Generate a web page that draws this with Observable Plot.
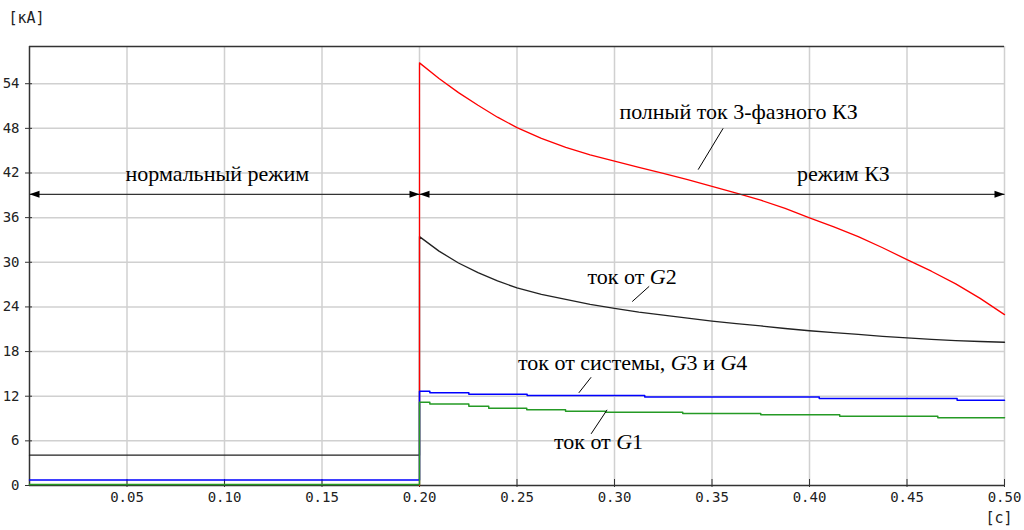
<!DOCTYPE html>
<html>
<head>
<meta charset="utf-8">
<script src="https://cdn.jsdelivr.net/npm/d3@7"></script>
<script src="https://cdn.jsdelivr.net/npm/@observablehq/plot@0.6"></script>
<style>
  html, body { margin: 0; padding: 0; background: #fff; }
  #chart svg { display: block; }
</style>
</head>
<body>
<div id="chart"></div>
<script>
// ---- tick values ----
const xTicks = [0.05, 0.10, 0.15, 0.20, 0.25, 0.30, 0.35, 0.40, 0.45, 0.50];
const yTicks = [0, 6, 12, 18, 24, 30, 36, 42, 48, 54];
const yMax = 59;

// ---- series: total 3-phase short-circuit current (red) ----
const redT = [0.2, 0.2, 0.21, 0.22, 0.23, 0.24, 0.25, 0.2625, 0.275, 0.2875, 0.30, 0.3125, 0.325, 0.3375, 0.35, 0.3625, 0.375, 0.3875, 0.40, 0.4125, 0.425, 0.4375, 0.45, 0.4625, 0.475, 0.4875, 0.50];
const redI = [0, 56.8, 54.7, 52.8, 51.1, 49.5, 48.1, 46.65, 45.45, 44.45, 43.6, 42.75, 41.95, 41.1, 40.2, 39.3, 38.35, 37.25, 35.96, 34.75, 33.45, 31.95, 30.36, 28.8, 27.1, 25.15, 22.97];

// ---- series: current from G2 (black) ----
const blackT = [0, 0.2, 0.2, 0.21, 0.22, 0.23, 0.24, 0.25, 0.2625, 0.275, 0.2875, 0.30, 0.3125, 0.325, 0.3375, 0.35, 0.3625, 0.375, 0.3875, 0.40, 0.4125, 0.425, 0.4375, 0.45, 0.4625, 0.475, 0.4875, 0.50];
const blackI = [4.07, 4.07, 33.45, 31.5, 29.9, 28.6, 27.5, 26.55, 25.7, 25.0, 24.35, 23.8, 23.3, 22.9, 22.5, 22.1, 21.75, 21.45, 21.1, 20.8, 20.55, 20.3, 20.05, 19.84, 19.65, 19.48, 19.35, 19.25];

// ---- series: current from system, G3 and G4 (blue, stepped) ----
const blueT = [0, 0.2, 0.2053, 0.2253, 0.2552, 0.3155, 0.405, 0.4757, 0.5];
const blueI = [0.75, 12.67, 12.45, 12.27, 12.09, 11.91, 11.69, 11.46, 11.46];

// ---- series: current from G1 (green, stepped) ----
const greenT = [0, 0.2, 0.2053, 0.2253, 0.2355, 0.255, 0.2749, 0.2954, 0.335, 0.375, 0.4155, 0.4658, 0.5];
const greenI = [0.12, 11.19, 10.97, 10.66, 10.39, 10.17, 9.98, 9.85, 9.67, 9.5, 9.31, 9.09, 9.09];

// ---- annotations ----
const labels = ["нормальный режим", "режим КЗ", "полный ток 3-фазного КЗ", "ток от G2", "ток от системы, G3 и G4", "ток от G1"];
const labelX = [0.0963, 0.4174, 0.3636, 0.309, 0.3093, 0.2918];
const labelY = [41.9, 41.9, 50.2, 28.0, 16.5, 5.82];

const leaderX1 = [0.3429, 0.3091, 0.2817, 0.288];
const leaderY1 = [42.45, 24.72, 12.45, 6.94];
const leaderX2 = [0.3557, 0.3178, 0.288, 0.2962];
const leaderY2 = [48.0, 26.77, 14.55, 10.17];

// mode arrows
const arrowLevel = 39.13;
const arrowStart = [0, 0.2];
const arrowEnd = [0.2, 0.5];

const zip = (t, v) => t.map((d, i) => ({t: d, i: v[i]}));
const red = zip(redT, redI);
const black = zip(blackT, blackI);
const blue = zip(blueT, blueI);
const green = zip(greenT, greenI);
const annot = labels.map((s, k) => ({s, x: labelX[k], y: labelY[k]}));
const leaders = leaderX1.map((d, k) => ({x1: d, y1: leaderY1[k], x2: leaderX2[k], y2: leaderY2[k]}));
const arrows = arrowStart.map((d, k) => ({x1: d, x2: arrowEnd[k], y: arrowLevel}));
const heads = [
  {x: arrowStart[0], y: arrowLevel, r: 180},
  {x: arrowEnd[0], y: arrowLevel, r: 0},
  {x: arrowStart[1], y: arrowLevel, r: 180},
  {x: arrowEnd[1], y: arrowLevel, r: 0}
];

// filled arrowhead with its tip at the origin, pointing right
const arrowHead = {
  draw(ctx) {
    ctx.moveTo(0, 0);
    ctx.lineTo(-10, -3.5);
    ctx.lineTo(-10, 3.5);
    ctx.closePath();
  }
};

const mono = "DejaVu Sans Mono";
const serif = "Liberation Serif";
const gridColor = "#d0d0d0";
const axisColor = "#333";

const chart = Plot.plot({
  width: 1024,
  height: 530,
  marginLeft: 29,
  marginRight: 20,
  marginTop: 46,
  marginBottom: 45,
  style: {fontFamily: mono, fontSize: "14px", background: "#fff", color: "#222"},
  x: {domain: [0, 0.5]},
  y: {domain: [0, yMax]},
  marks: [
    Plot.gridX(xTicks, {stroke: gridColor, strokeOpacity: 1, strokeWidth: 1.5}),
    Plot.gridY(yTicks.filter(d => d > 0), {stroke: gridColor, strokeOpacity: 1, strokeWidth: 1.5}),
    Plot.ruleY([0], {stroke: axisColor, strokeWidth: 1.5}),
    Plot.ruleY([yMax], {stroke: axisColor, strokeWidth: 1.5}),
    Plot.ruleX([0], {stroke: axisColor, strokeWidth: 1.5}),
    Plot.axisY({ticks: yTicks, tickSize: 7, dx: 3, tickPadding: 6, stroke: axisColor, fontSize: 14, fontFamily: mono, tickFormat: d => String(d)}),
    Plot.axisX({ticks: xTicks, tickSize: 8, dy: -6, stroke: axisColor, tickFormat: () => ""}),
    Plot.axisX({ticks: xTicks, tickSize: 0, tickPadding: 7, fontSize: 14, fontFamily: mono, tickFormat: d3.format(".2f")}),
    // series
    Plot.line(black, {x: "t", y: "i", stroke: "#222", strokeWidth: 1.3}),
    Plot.line(red, {x: "t", y: "i", stroke: "#ff0000", strokeWidth: 1.3}),
    Plot.line(blue, {x: "t", y: "i", stroke: "#0000ff", strokeWidth: 1.5, curve: "step-after"}),
    Plot.line(green, {x: "t", y: "i", stroke: "#259a25", strokeWidth: 1.5, curve: "step-after"}),
    // mode arrows
    Plot.link(arrows, {x1: "x1", x2: "x2", y1: "y", y2: "y", stroke: axisColor, strokeWidth: 1.3}),
    Plot.dot(heads, {x: "x", y: "y", rotate: "r", symbol: arrowHead, fill: "#000", stroke: "none"}),
    // leader lines and labels
    Plot.link(leaders, {x1: "x1", y1: "y1", x2: "x2", y2: "y2", stroke: "#000", strokeWidth: 1}),
    Plot.text(annot, {x: "x", y: "y", text: "s", fontFamily: serif, fontSize: 22, fill: "#000", textAnchor: "middle", lineAnchor: "middle"}),
    // unit labels
    Plot.text(["[кА]"], {frameAnchor: "top-left", dx: -21, dy: -28, textAnchor: "start", lineAnchor: "middle", fontFamily: mono, fontSize: 15, fill: "#222"}),
    Plot.text(["[с]"], {frameAnchor: "bottom-right", dx: 8, dy: 33, textAnchor: "end", lineAnchor: "middle", fontFamily: mono, fontSize: 15, fill: "#222"})
  ]
});

// italicise the generator symbol "G" in the annotations
chart.querySelectorAll("text").forEach(el => {
  if (el.children.length === 0 && /G\d/.test(el.textContent)) {
    const parts = el.textContent.split(/(G)/);
    el.textContent = "";
    parts.forEach(p => {
      if (!p) return;
      const ts = document.createElementNS("http://www.w3.org/2000/svg", "tspan");
      ts.textContent = p;
      if (p === "G") ts.setAttribute("font-style", "italic");
      el.appendChild(ts);
    });
  }
});

document.getElementById("chart").appendChild(chart);
</script>
</body>
</html>
